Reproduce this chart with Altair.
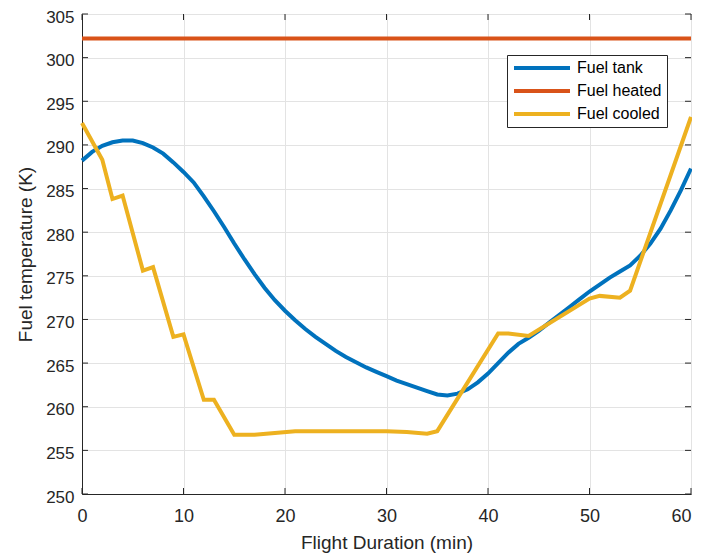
import altair as alt
import pandas as pd

# Fuel tank (blue)
tank_x = list(range(0, 61))
tank_y = [288.2, 289.2, 289.9, 290.3, 290.5, 290.5, 290.2, 289.7, 289.0, 288.0,
          286.9, 285.7, 284.1, 282.4, 280.6, 278.7, 276.9, 275.2, 273.6, 272.2,
          271.0, 269.9, 268.9, 268.0, 267.2, 266.4, 265.7, 265.1, 264.5, 264.0,
          263.5, 263.0, 262.6, 262.2, 261.8, 261.4, 261.3, 261.5, 262.0, 262.8,
          263.8, 265.0, 266.2, 267.2, 267.9, 268.7, 269.6, 270.5, 271.4, 272.3,
          273.2, 274.0, 274.8, 275.5, 276.2, 277.3, 278.7, 280.4, 282.5, 284.8,
          287.3]

# Fuel heated (orange)
heated_x = [0, 60]
heated_y = [302.2, 302.2]

# Fuel cooled (yellow)
cooled_x = [0, 2, 3, 4, 6, 7, 9, 10, 12, 13, 15, 17, 19, 21, 25, 30, 32, 34, 35,
            41, 42, 44, 50, 51, 53, 54, 60]
cooled_y = [292.5, 288.3, 283.8, 284.2, 275.6, 276.0, 268.0, 268.3, 260.8, 260.8,
            256.8, 256.8, 257.0, 257.2, 257.2, 257.2, 257.1, 256.9, 257.2,
            268.4, 268.4, 268.1, 272.4, 272.7, 272.5, 273.3, 293.2]

series = ["Fuel tank", "Fuel heated", "Fuel cooled"]
colors = ["#0072BD", "#D95319", "#EDB120"]

x_ticks = [0, 10, 20, 30, 40, 50, 60]
y_ticks = [250, 255, 260, 265, 270, 275, 280, 285, 290, 295, 300, 305]

df_tank = pd.DataFrame({"x": tank_x, "y": tank_y, "s": series[0]})
df_heat = pd.DataFrame({"x": heated_x, "y": heated_y, "s": series[1]})
df_cool = pd.DataFrame({"x": cooled_x, "y": cooled_y, "s": series[2]})

W, H = 609, 480
axis_col = "#262626"
FONT = "Liberation Sans"

xs = alt.Scale(domain=[0, 60], nice=False, zero=False)
ys = alt.Scale(domain=[250, 305], nice=False, zero=False)

color = alt.Color(
    "s:N",
    scale=alt.Scale(domain=series, range=colors),
    legend=alt.Legend(
        title=None,
        orient="none",
        legendX=425,
        legendY=41,
        symbolType="stroke",
        symbolSize=3136,
        symbolStrokeWidth=4,
        clipHeight=16,
        labelFontSize=16,
        labelFont=FONT,
        labelColor="#000000",
        strokeColor=axis_col,
        fillColor="#ffffff",
        padding=5,
        rowPadding=7,
        labelOffset=5,
    ),
)

def line(df):
    return alt.Chart(df).mark_line(strokeWidth=4, strokeJoin="miter").encode(
        x=alt.X("x:Q", scale=xs,
                axis=alt.Axis(values=x_ticks, title="Flight Duration (min)", ticks=False,
                              labelFontSize=18, labelPadding=13, titlePadding=8,
                              labelFlush=False,
                              labelAlign=alt.expr("datum.value >= 60 ? 'right' : 'center'"))),
        y=alt.Y("y:Q", scale=ys,
                axis=alt.Axis(values=y_ticks, title="Fuel temperature (K)", ticks=False,
                              labelFontSize=17, labelPadding=8, labelOffset=3,
                              titlePadding=10)),
        color=color,
    )

df_xt = pd.DataFrame({"v": x_ticks})
df_yt = pd.DataFrame({"v": y_ticks})

xt_bot = alt.Chart(df_xt).mark_rule(color=axis_col, strokeWidth=1).encode(
    x=alt.X("v:Q", scale=xs), y=alt.value(H), y2=alt.value(H - 6))
xt_top = alt.Chart(df_xt).mark_rule(color=axis_col, strokeWidth=1).encode(
    x=alt.X("v:Q", scale=xs), y=alt.value(0), y2=alt.value(6))
yt_left = alt.Chart(df_yt).mark_rule(color=axis_col, strokeWidth=1).encode(
    y=alt.Y("v:Q", scale=ys), x=alt.value(0), x2=alt.value(6))
yt_right = alt.Chart(df_yt).mark_rule(color=axis_col, strokeWidth=1).encode(
    y=alt.Y("v:Q", scale=ys), x=alt.value(W), x2=alt.value(W - 6))

chart = alt.layer(
    line(df_tank), line(df_heat), line(df_cool),
    xt_bot, xt_top, yt_left, yt_right,
).properties(
    width=W, height=H,
    autosize=alt.AutoSizeParams(type="none"),
    padding={"left": 74, "top": 6, "right": 1, "bottom": 62},
).configure_view(
    stroke=axis_col, strokeWidth=1
).configure_axis(
    labelFont=FONT, titleFont=FONT,
    titleFontSize=19, titleFontWeight="normal",
    labelColor=axis_col, titleColor=axis_col,
    domainColor=axis_col, gridColor="#e3e3e3", gridWidth=1, grid=True,
)

chart.save("out.html", embed_options={"renderer": "svg", "actions": False})
